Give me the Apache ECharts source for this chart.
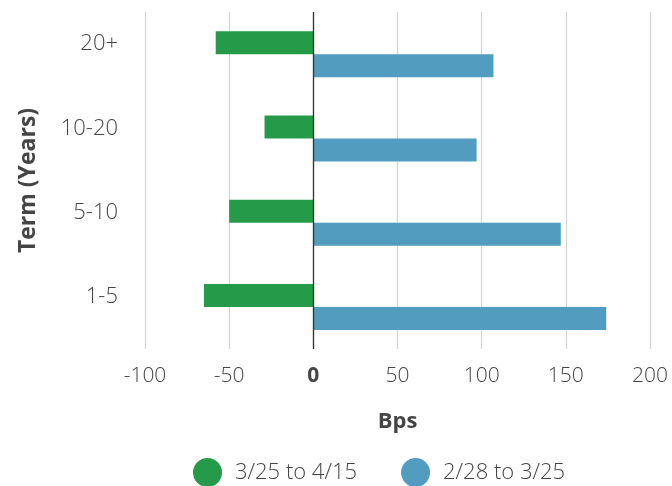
<!DOCTYPE html>
<html>
<head>
<meta charset="utf-8">
<script src="https://cdn.jsdelivr.net/npm/echarts@6/dist/echarts.min.js"></script>
<style>
  html, body { margin: 0; padding: 0; background: #fff; }
  #chart { width: 672px; height: 486px; }
</style>
</head>
<body>
<div id="chart"></div>
<script>
// Term buckets, top to bottom
const terms = ['20+', '10-20', '5-10', '1-5'];
// Yield change in basis points for each period
const recentChange = [-58, -29, -50, -65];   // 3/25 to 4/15
const earlierChange = [107, 97, 147, 174];   // 2/28 to 3/25
const seriesNames = ['3/25 to 4/15', '2/28 to 3/25'];
const xTicks = { min: -100, max: 200, step: 50 };

const GREEN = '#259a48';
const BLUE = '#529dbf';
const FONT = '"Open Sans", Lato, sans-serif';
const TEXT = '#454545';

const chart = echarts.init(document.getElementById('chart'), null, { renderer: 'canvas' });

chart.setOption({
  animation: false,
  backgroundColor: '#ffffff',
  textStyle: { fontFamily: FONT },
  grid: { left: 145, right: 22, top: 12, bottom: 137, containLabel: false },
  legend: {
    left: 193,
    top: 458,
    padding: 0,
    icon: 'circle',
    itemWidth: 29,
    itemHeight: 29,
    itemGap: 44,
    textStyle: { fontFamily: FONT, fontSize: 22, color: TEXT, fontWeight: 300, padding: [0, 0, 0, 8] },
    data: seriesNames
  },
  xAxis: {
    type: 'value',
    min: xTicks.min,
    max: xTicks.max,
    interval: xTicks.step,
    name: 'Bps',
    nameLocation: 'middle',
    nameGap: 62,
    nameTextStyle: { fontFamily: FONT, fontSize: 22, fontWeight: 'bold', color: TEXT },
    axisLine: { show: false },
    axisTick: { show: false },
    splitLine: { show: true, lineStyle: { color: '#d4d4d4', width: 1.2 } },
    axisLabel: {
      margin: 17,
      fontFamily: FONT,
      fontSize: 21,
      fontWeight: 300,
      color: TEXT,
      formatter: v => (v === 0 ? '{z|0}' : String(v)),
      rich: { z: { fontFamily: FONT, fontSize: 21, fontWeight: 'bold', color: TEXT } }
    }
  },
  yAxis: {
    type: 'category',
    inverse: true,
    data: terms,
    name: 'Term (Years)',
    nameLocation: 'middle',
    nameGap: 105,
    nameTextStyle: { fontFamily: FONT, fontSize: 23, fontWeight: 'bold', color: TEXT },
    axisLine: { show: false, onZero: false },
    axisTick: { show: false },
    splitLine: { show: false },
    axisLabel: {
      margin: 27,
      fontFamily: FONT,
      fontSize: 22,
      fontWeight: 300,
      color: TEXT,
      verticalAlign: 'bottom',
      lineHeight: 20
    }
  },
  series: [
    {
      name: seriesNames[0],
      type: 'bar',
      data: recentChange,
      barWidth: 23,
      barGap: '0%',
      itemStyle: { color: GREEN },
      markLine: {
        silent: true,
        symbol: 'none',
        label: { show: false },
        lineStyle: { color: '#333', width: 1.3, type: 'solid' },
        data: [{ xAxis: 0 }],
        z: 10
      }
    },
    {
      name: seriesNames[1],
      type: 'bar',
      data: earlierChange,
      barWidth: 23,
      barGap: '0%',
      itemStyle: { color: BLUE }
    }
  ]
});
</script>
</body>
</html>
